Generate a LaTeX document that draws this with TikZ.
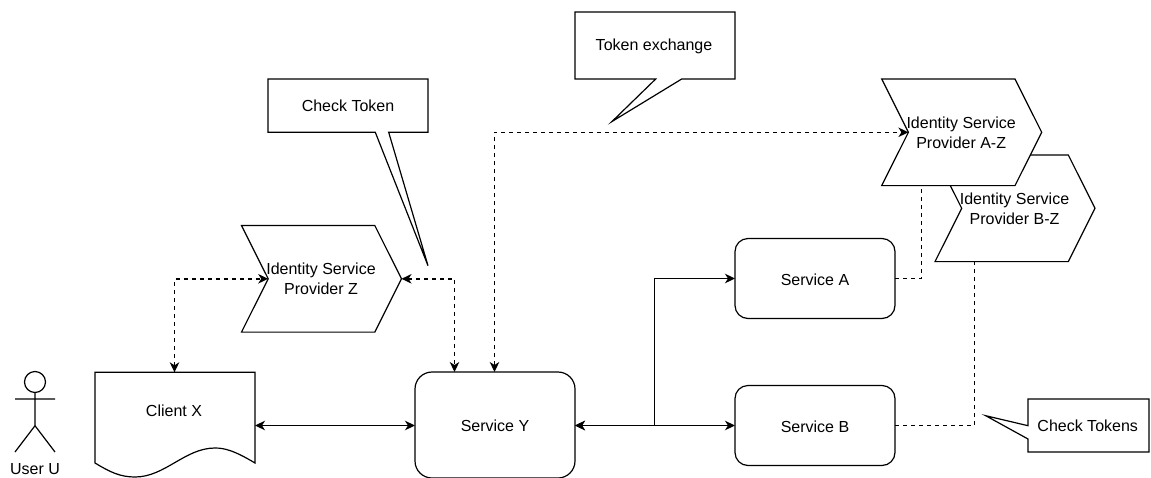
\documentclass[tikz,border=0pt]{standalone}
\usepackage{fontspec}
\setmainfont{Liberation Sans}
\usetikzlibrary{arrows.meta}
\tikzset{
  boxline/.style={draw=black,line width=1.2pt,line join=miter},
  txt/.style={align=center,inner sep=0pt,outer sep=0pt,font=\fontsize{16}{20}\selectfont},
  roundbox/.style={boxline,fill=white,rounded corners=13pt,minimum width=160pt,inner sep=0pt,outer sep=0pt,text height=13.5pt,text depth=0pt,font=\fontsize{16}{20}\selectfont},
  flow/.style={draw=black,line width=1.4pt,{Stealth[length=10pt,width=9.5pt,inset=3pt]}-{Stealth[length=10pt,width=9.5pt,inset=3pt]}},
  dflow/.style={flow,dash pattern=on 4pt off 4pt},
  dline/.style={draw=black,line width=1.4pt,dash pattern=on 4pt off 4pt},
}
\newcommand{\stepshape}[4]{%
  \begin{scope}[shift={(#2,#3)}]
    \draw[boxline,fill=white] (0,0) -- (133.3,0) -- (160,53.3) -- (133.3,106.6) -- (0,106.6) -- (26.7,53.3) -- cycle;
    \coordinate (#1w) at (26.7,53.3);
    \coordinate (#1e) at (160,53.3);
    \node[txt] (#1t) at (79.5,53.3) {#4};
  \end{scope}}
\begin{document}
\begin{tikzpicture}[x=1pt,y=-1pt]
\useasboundingbox[fill=white] (0,0) rectangle (1151,477);
% callouts
\draw[boxline,fill=white] (268,79) -- (428,79) -- (428,132.3) -- (388.7,132.3) -- (428,265.7) -- (375.3,132.3) -- (268,132.3) -- cycle;
\node[txt] (checktoken) at (348,106) {Check Token};
\draw[boxline,fill=white] (575,12) -- (735,12) -- (735,79) -- (681.7,79) -- (612,121.5) -- (655.7,79) -- (575,79) -- cycle;
\node[txt] (tokenex) at (654,46) {Token exchange};
\draw[boxline,fill=white] (1028,399) -- (1149,399) -- (1149,452) -- (1028,452) -- (1028,439) -- (985.7,415.7) -- (1028,425.7) -- cycle;
\node[txt] (checktokens) at (1087.7,426) {Check Tokens};
% identity providers
\stepshape{z}{241.5}{225.5}{Identity Service\\Provider Z}
\stepshape{bz}{935}{155}{Identity Service\\Provider B-Z}
\stepshape{az}{881.7}{79}{Identity Service\\Provider A-Z}
\coordinate (azb) at (921.5,185.6);
\coordinate (bzb) at (974.5,261.6);
% services
\node[roundbox,minimum height=80pt] (sa) at (815,278.5) {Service A};
\node[roundbox,minimum height=80pt] (sb) at (815,425.5) {Service B};
\node[roundbox,minimum height=106pt,rounded corners=17pt] (sy) at (495,425) {Service Y};
% client document
\draw[boxline,fill=white] (95,372.3) -- (255,372.3) -- (255,463)
  .. controls (235,451) and (225,448) .. (215,448)
  .. controls (185,448) and (165,477) .. (135,477)
  .. controls (120,477) and (110,472) .. (95,463) -- cycle;
\coordinate (cxt) at (174.5,372.3);
\coordinate (cxe) at (255,425.5);
\node[txt] (client) at (174,411) {Client X};
% actor
\draw[boxline] (35,382) circle (10.5);
\draw[boxline] (35,392.5) -- (35,425.7) (15,399) -- (55,399) (15,452) -- (35,425.7) -- (55,452);
\node[txt] (user) at (35,469.5) {User U};
% connectors
\coordinate (cyl) at (454.5,372);
\coordinate (cym) at (494.5,372);
\draw[dflow] (cxt) |- (zw);
\draw[dflow] (ze) -| (cyl);
\draw[dflow] (cym) |- (azw);
\draw[flow] (cxe) -- (cxe -| sy.west);
\draw[flow] (sy.east |- sb.west) -- (sb.west);
\draw[flow] (sy.east |- sb.west) -- ++(79.5,0) |- (sa.west);
\draw[dline] (sa.east) -| (azb);
\draw[dline] (sb.east) -| (bzb);
\end{tikzpicture}
\end{document}
